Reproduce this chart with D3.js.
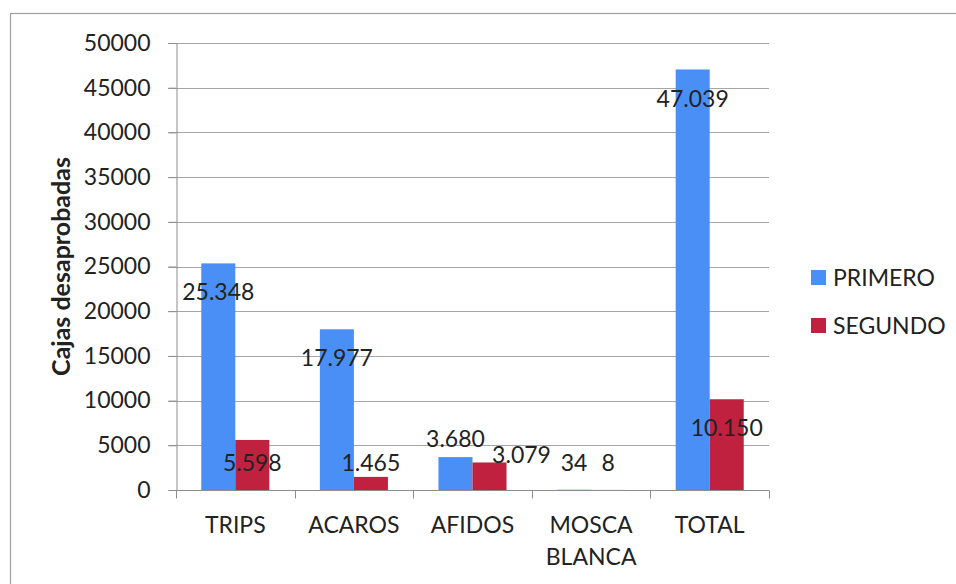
<!DOCTYPE html>
<html>
<head>
<meta charset="utf-8">
<script src="https://cdn.jsdelivr.net/npm/d3@7"></script>
<style>
  html, body { margin: 0; padding: 0; background: #fff; }
  svg { display: block; }
  text { font-family: Lato, "Open Sans", sans-serif; fill: #222; }
</style>
</head>
<body>
<svg id="chart" width="956" height="584"></svg>
<script>
// ---- data ----
const categories = ["TRIPS", "ACAROS", "AFIDOS", "MOSCA BLANCA", "TOTAL"];
const seriesNames = ["PRIMERO", "SEGUNDO"];
const primero = [25348, 17977, 3680, 34, 47039];
const segundo = [5598, 1465, 3079, 8, 10150];
const yTicks = [0, 5000, 10000, 15000, 20000, 25000, 30000, 35000, 40000, 45000, 50000];
const yTitle = "Cajas desaprobadas";

const colors = { PRIMERO: "#4a8ff5", SEGUNDO: "#c0213f" };
const fmt = v => d3.format(",")(v).replace(/,/g, ".");

const svg = d3.select("#chart");
const margin = { left: 176, right: 956 - 769, top: 43, bottom: 584 - 490 };
const W = 956, H = 584;

// outer border
svg.append("rect").attr("x", 10.5).attr("y", 13.5).attr("width", 980).attr("height", 620)
  .attr("fill", "none").attr("stroke", "#a0a0a0").attr("stroke-width", 1.2);

const x0 = d3.scaleBand().domain(categories).range([margin.left, W - margin.right]).paddingInner(0).paddingOuter(0);
const x1 = d3.scaleBand().domain(seriesNames).range([0, x0.bandwidth()]).paddingInner(0).paddingOuter(0.743);
const y = d3.scaleLinear().domain([0, 50000]).range([H - margin.bottom, margin.top]);

// gridlines
const grid = svg.append("g");
grid.selectAll("line").data(yTicks.filter(d => d > 0)).join("line")
  .attr("x1", margin.left - 8).attr("x2", W - margin.right)
  .attr("y1", d => Math.round(y(d)) + 0.5).attr("y2", d => Math.round(y(d)) + 0.5)
  .attr("stroke", "#a6a6a6").attr("stroke-width", 1);

// y axis
const yAxis = svg.append("g").attr("transform", `translate(${margin.left + 0.5},0)`)
  .call(d3.axisLeft(y).tickValues(yTicks).tickSize(8).tickPadding(18).tickFormat(d => d));
yAxis.select(".domain").attr("stroke", "#8c8c8c");
yAxis.selectAll(".tick line").attr("stroke", "#8c8c8c");
yAxis.selectAll(".tick text").attr("font-size", 23).attr("fill", "#222").style("font-family", "Lato");

// x axis
const xAxisG = svg.append("g").attr("transform", `translate(0,${Math.round(y(0)) + 0.5})`);
xAxisG.append("line").attr("x1", margin.left).attr("x2", W - margin.right).attr("stroke", "#8c8c8c");
const bounds = categories.map(c => x0(c)).concat([x0(categories[categories.length - 1]) + x0.bandwidth()]);
xAxisG.selectAll("line.tk").data(bounds).join("line").attr("class", "tk")
  .attr("x1", d => Math.round(d) + 0.5).attr("x2", d => Math.round(d) + 0.5)
  .attr("y1", 0).attr("y2", 8).attr("stroke", "#8c8c8c");
const catLabels = xAxisG.selectAll("text.cat").data(categories).join("text").attr("class", "cat")
  .attr("x", d => x0(d) + x0.bandwidth() / 2)
  .attr("text-anchor", "middle").attr("font-size", 23);
catLabels.each(function(d) {
  const words = d.split(" ");
  const t = d3.select(this);
  words.forEach((w, i) => {
    t.append("tspan").attr("x", x0(d) + x0.bandwidth() / 2).attr("y", 42 + i * 32).text(w);
  });
});

// bars
const rows = categories.map((c, i) => ({ cat: c, PRIMERO: primero[i], SEGUNDO: segundo[i] }));
const groups = svg.append("g").selectAll("g").data(rows).join("g")
  .attr("transform", d => `translate(${x0(d.cat)},0)`);
groups.selectAll("rect").data(d => seriesNames.map(s => ({ s, v: d[s], cat: d.cat }))).join("rect")
  .attr("x", d => x1(d.s)).attr("width", x1.bandwidth())
  .attr("y", d => y(d.v)).attr("height", d => y(0) - y(d.v))
  .attr("fill", d => colors[d.s]);

// data labels (Excel-like placement, with collision nudges in AFIDOS)
const labelNudge = { "AFIDOS|PRIMERO": [0, -24], "AFIDOS|SEGUNDO": [32, -8] };
const labels = [];
rows.forEach(r => seriesNames.forEach(s => labels.push({ cat: r.cat, s, v: r[s] })));
svg.append("g").selectAll("text").data(labels).join("text")
  .attr("x", d => x0(d.cat) + x1(d.s) + x1.bandwidth() / 2 + (labelNudge[d.cat + "|" + d.s] || [0, 0])[0])
  .attr("y", d => Math.min(y(d.v) + 29, y(0) - 27) + (labelNudge[d.cat + "|" + d.s] || [0, 0])[1])
  .attr("dy", "0.35em").attr("text-anchor", "middle").attr("font-size", 23)
  .text(d => fmt(d.v));

// y title
svg.append("text").attr("transform", `translate(70,${(y(0) + y(50000)) / 2}) rotate(-90)`)
  .attr("text-anchor", "middle").attr("font-weight", "bold").attr("font-size", 25)
  .text(yTitle);

// legend
const leg = svg.append("g").selectAll("g").data(seriesNames).join("g")
  .attr("transform", (d, i) => `translate(811,${270 + i * 48})`);
leg.append("rect").attr("width", 15).attr("height", 15).attr("fill", d => colors[d]);
leg.append("text").attr("x", 22).attr("y", 7.5).attr("dy", "0.35em").attr("font-size", 23).text(d => d);
</script>
</body>
</html>
